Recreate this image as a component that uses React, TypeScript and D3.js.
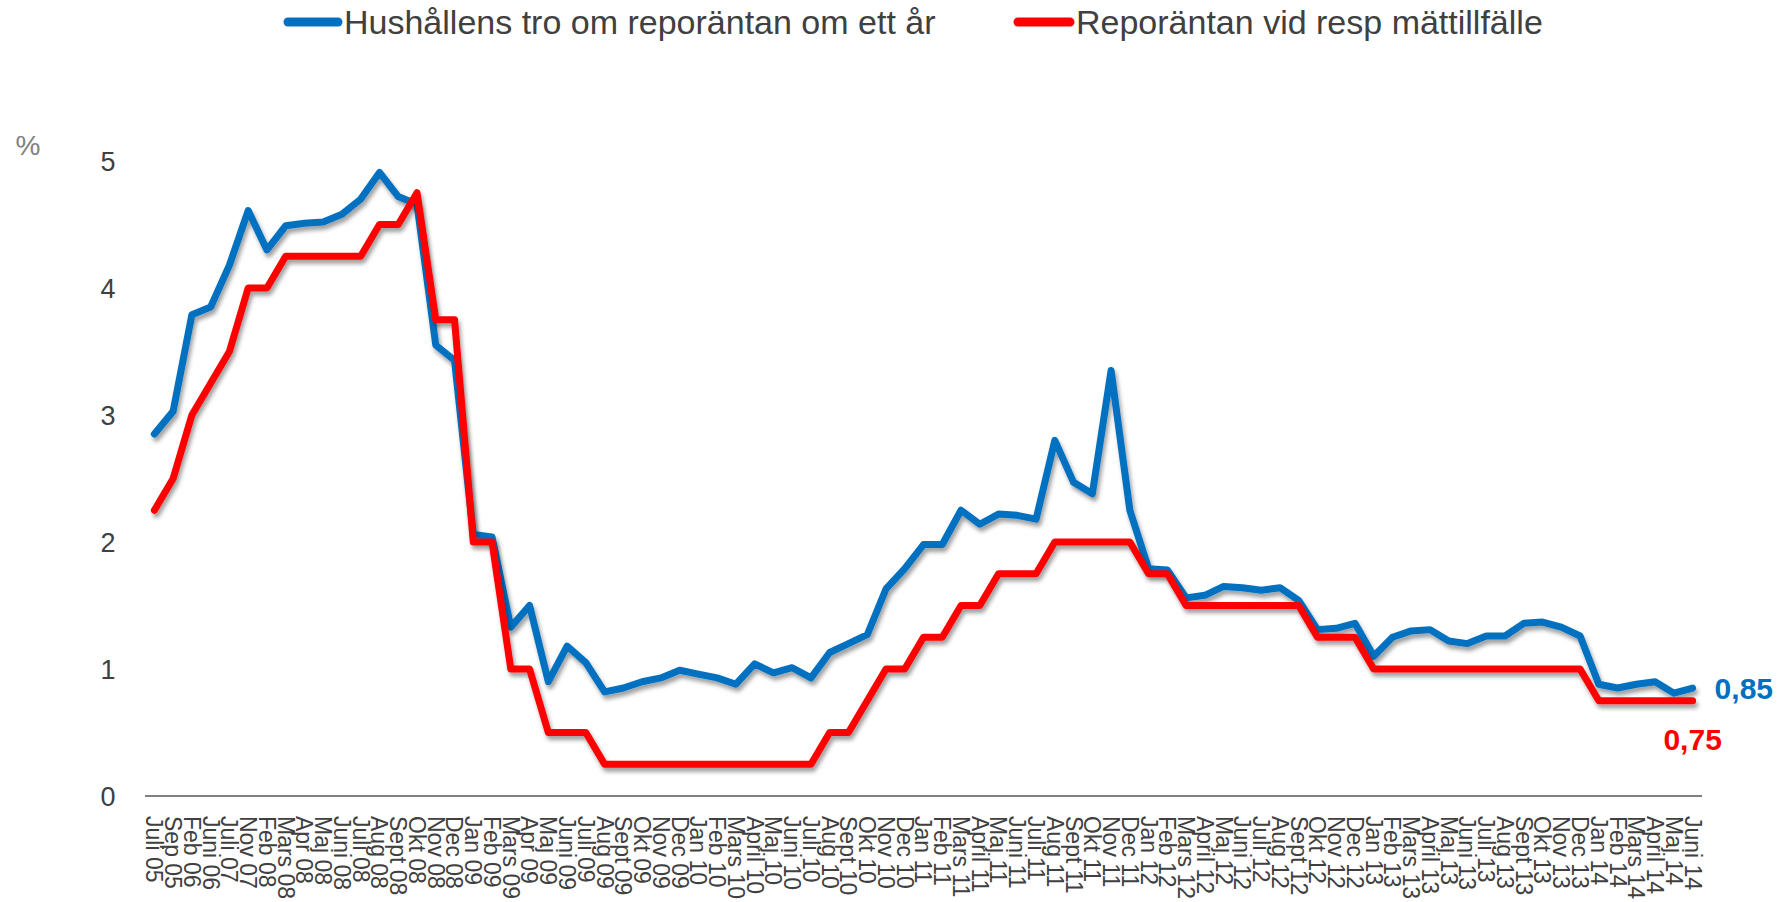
import React from "react";
import * as d3 from "d3";

const categories = [
  "Juli 05","Sep 05","Feb 06","Juni 06","Juli 07","Nov 07","Feb 08","Mars 08","Apr 08","Maj 08",
  "Juni 08","Juli 08","Aug 08","Sept 08","Okt 08","Nov 08","Dec 08","Jan 09","Feb 09","Mars 09",
  "Apr 09","Maj 09","Juni 09","Juli 09","Aug 09","Sept 09","Okt 09","Nov 09","Dec 09","Jan 10",
  "Feb 10","Mars 10","April 10","Maj 10","Juni 10","Juli 10","Aug 10","Sept 10","Okt 10","Nov 10",
  "Dec 10","Jan 11","Feb 11","Mars 11","April 11","Maj 11","Juni 11","Juli 11","Aug 11","Sept 11",
  "Okt 11","Nov 11","Dec 11","Jan 12","Feb 12","Mars 12","April 12","Maj 12","Juni 12","Juli 12",
  "Aug 12","Sept 12","Okt 12","Nov 12","Dec 12","Jan 13","Feb 13","Mars 13","April 13","Maj 13",
  "Juni 13","Juli 13","Aug 13","Sept 13","Okt 13","Nov 13","Dec 13","Jan 14","Feb 14","Mars 14",
  "April 14","Maj 14","Juni 14",
];

const hushallensTro = [
  2.85,3.03,3.79,3.85,4.18,4.61,4.30,4.49,4.51,4.52,
  4.58,4.70,4.91,4.72,4.66,3.55,3.43,2.06,2.04,1.33,
  1.50,0.90,1.18,1.05,0.82,0.85,0.90,0.93,0.99,0.96,
  0.93,0.88,1.04,0.97,1.01,0.93,1.13,1.20,1.27,1.63,
  1.79,1.98,1.98,2.25,2.14,2.22,2.21,2.18,2.80,2.47,
  2.38,3.35,2.25,1.79,1.78,1.56,1.58,1.65,1.64,1.62,
  1.64,1.54,1.31,1.32,1.36,1.10,1.25,1.30,1.31,1.22,
  1.20,1.26,1.26,1.36,1.37,1.33,1.26,0.88,0.85,0.88,
  0.90,0.81,0.85,
];

const reporantan = [
  2.25,2.5,3.0,3.25,3.5,4.0,4.0,4.25,4.25,4.25,
  4.25,4.25,4.5,4.5,4.75,3.75,3.75,2.0,2.0,1.0,
  1.0,0.5,0.5,0.5,0.25,0.25,0.25,0.25,0.25,0.25,
  0.25,0.25,0.25,0.25,0.25,0.25,0.5,0.5,0.75,1.0,
  1.0,1.25,1.25,1.5,1.5,1.75,1.75,1.75,2.0,2.0,
  2.0,2.0,2.0,1.75,1.75,1.5,1.5,1.5,1.5,1.5,
  1.5,1.5,1.25,1.25,1.25,1.0,1.0,1.0,1.0,1.0,
  1.0,1.0,1.0,1.0,1.0,1.0,1.0,0.75,0.75,0.75,
  0.75,0.75,0.75,
];

const yTicks = [0, 1, 2, 3, 4, 5];
const seriesNames = ["Hushållens tro om reporäntan om ett år", "Reporäntan vid resp mättillfälle"];
const lastLabels = ["0,85", "0,75"];

const BLUE = "#0070C0";
const RED = "#FF0000";

export default function App() {
  const W = 1781, H = 902;
  const x = d3.scaleBand<string>().domain(categories).range([145, 1702]).paddingInner(0).paddingOuter(0);
  const y = d3.scaleLinear().domain([0, 5]).range([796, 161]);
  const cx = (c: string) => (x(c) as number) + x.bandwidth() / 2;
  const line = d3.line<number>().x((_, i) => cx(categories[i])).y((d) => y(d));
  const font = "'Liberation Sans', Arial, sans-serif";
  const lastC = categories[categories.length - 1];

  return (
    <svg width={W} height={H} style={{ position: "fixed", left: 0, top: 0, background: "#fff" }} fontFamily={font}>
      <defs>
        <filter id="lineShadow" x="-5%" y="-10%" width="110%" height="130%">
          <feDropShadow dx="2" dy="4" stdDeviation="2.2" floodColor="#000" floodOpacity="0.38" />
        </filter>
        <filter id="gridShadow" x="-5%" y="-200%" width="110%" height="600%">
          <feDropShadow dx="0" dy="3" stdDeviation="2" floodColor="#000" floodOpacity="0.18" />
        </filter>
      </defs>
      <rect width={W} height={H} fill="#fff" />

      {/* gridlines */}
      {yTicks.filter((t) => t > 0).map((t) => (
        <line key={t} x1={145} x2={1702} y1={y(t)} y2={y(t)} stroke="#c0c0c0" strokeWidth={2} filter="url(#gridShadow)" />
      ))}
      <line x1={145} x2={1702} y1={y(0)} y2={y(0)} stroke="#808080" strokeWidth={2} />

      {/* y tick labels */}
      {yTicks.map((t) => (
        <text key={t} x={108} y={y(t)} dy="0.36em" textAnchor="middle" fontSize={27} fill="#404040">{t}</text>
      ))}
      <text x={28} y={145} dy="0.36em" textAnchor="middle" fontSize={28} fill="#808080">%</text>

      {/* x labels */}
      {categories.map((c) => (
        <text key={c} transform={`translate(${cx(c)},816) rotate(90)`} dy="0.35em" fontSize={23} fill="#404040">{c}</text>
      ))}

      {/* lines */}
      <path d={line(hushallensTro) as string} fill="none" stroke={BLUE} strokeWidth={7} strokeLinejoin="round" strokeLinecap="round" filter="url(#lineShadow)" />
      <path d={line(reporantan) as string} fill="none" stroke={RED} strokeWidth={7} strokeLinejoin="round" strokeLinecap="round" filter="url(#lineShadow)" />

      {/* end labels */}
      <text x={cx(lastC) + 22} y={y(hushallensTro[hushallensTro.length - 1])} dy="0.36em" fontSize={30} fontWeight="bold" fill={BLUE}>{lastLabels[0]}</text>
      <text x={cx(lastC)} y={y(reporantan[reporantan.length - 1]) + 38} dy="0.36em" textAnchor="middle" fontSize={30} fontWeight="bold" fill={RED}>{lastLabels[1]}</text>

      {/* legend */}
      <line x1={288} x2={338} y1={22} y2={22} stroke={BLUE} strokeWidth={9} strokeLinecap="round" />
      <text x={344} y={22} dy="0.36em" fontSize={34} fill="#404040">{seriesNames[0]}</text>
      <line x1={1018} x2={1070} y1={22} y2={22} stroke={RED} strokeWidth={9} strokeLinecap="round" />
      <text x={1076} y={22} dy="0.36em" fontSize={34} fill="#404040">{seriesNames[1]}</text>
    </svg>
  );
}
